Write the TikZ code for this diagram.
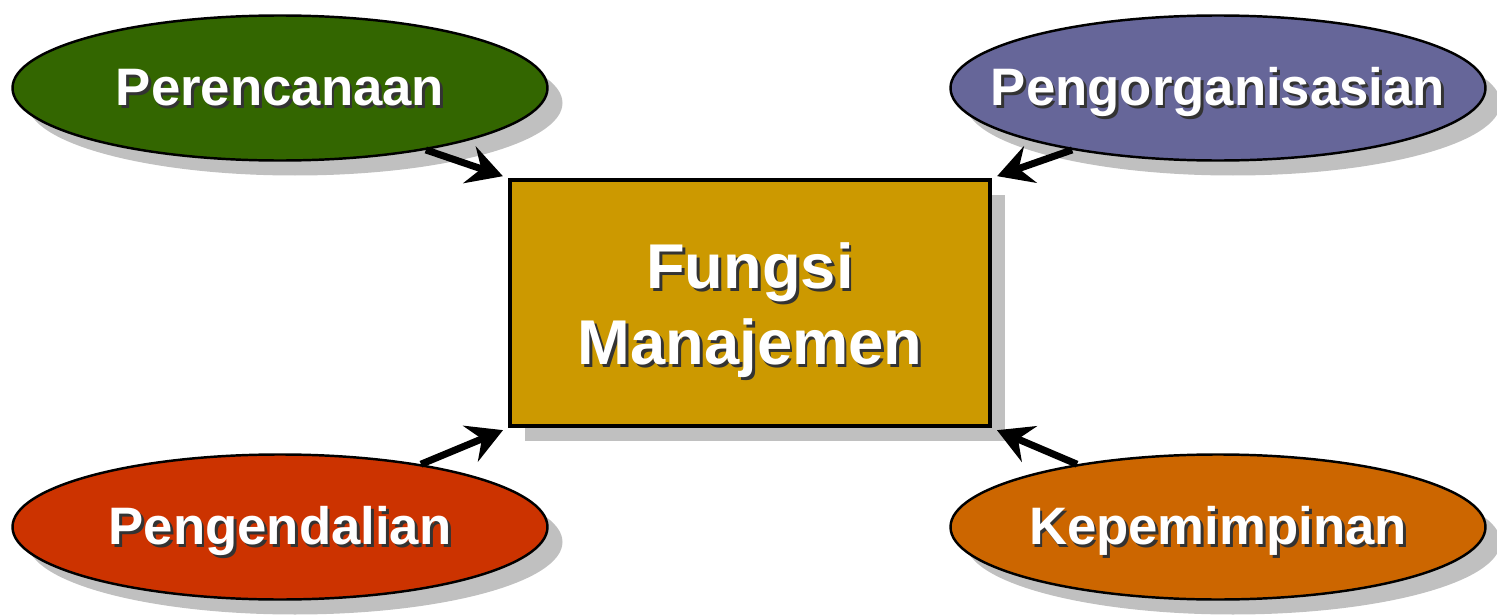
\documentclass[tikz,border=0pt]{standalone}
\usepackage{fontspec}
\setmainfont{Liberation Sans}
\usepackage{tikz}
\usetikzlibrary{arrows.meta,shadows,calc,shapes.geometric}

\definecolor{plangreen}{HTML}{336600}
\definecolor{orgpurple}{HTML}{666699}
\definecolor{ctrlred}{HTML}{CC3300}
\definecolor{leadorange}{HTML}{CC6600}
\definecolor{fmgold}{HTML}{CC9900}
\definecolor{shgray}{HTML}{C0C0C0}

\newcommand{\txtsh}[1]{\leavevmode\rlap{\kern0.8pt\raisebox{-0.8pt}{\textcolor{black!80}{#1}}}#1}
\newcommand{\fnlabel}[1]{\makebox[2cm][c]{\txtsh{#1}}}

\begin{document}
\begin{tikzpicture}[
        funcsty/.style={
            draw, ellipse, line width=0.7pt, inner sep=0pt,
            minimum width=5.35cm, minimum height=1.45cm,
            text height=12pt, text depth=2.2pt,
            text=white, font=\fontsize{15}{18}\selectfont\bfseries,
            drop shadow={shadow xshift=0.15cm, shadow yshift=-0.15cm, fill=shgray, opacity=1},
        },
        centersty/.style={
            draw, rectangle, line width=1.2pt, fill=fmgold, align=center,
            minimum width=4.8cm, minimum height=2.46cm,
            text=white, font=\fontsize{18}{21.6}\selectfont\bfseries,
            drop shadow={shadow xshift=0.15cm, shadow yshift=-0.15cm, fill=shgray, opacity=1},
        },
        arrsty/.style={
            line width=2pt, -{Stealth[length=10pt,width=11pt,inset=3.5pt]},
            shorten >=1.5pt
        }
    ]
    \useasboundingbox (0,0) rectangle (14.97,-6.15);

    \node[centersty] at (7.50,-3.03) (fm) {\txtsh{Fungsi}\rule{0pt}{18pt}\\\txtsh{Manajemen}};

    \node[funcsty,fill=plangreen] at (2.80,-0.88) (plan) {\fnlabel{Perencanaan}};
    \node[funcsty,fill=orgpurple] at (12.18,-0.88) (org) {\fnlabel{Pengorganisasian}};
    \node[funcsty,fill=ctrlred] at (2.80,-5.27) (ctrl) {\fnlabel{Pengendalian}};
    \node[funcsty,fill=leadorange] at (12.18,-5.27) (lead) {\fnlabel{Kepemimpinan}};

    \draw[arrsty] (plan.-23) -- (fm.north west);
    \draw[arrsty] (org.203) -- (fm.north east);
    \draw[arrsty] (ctrl.24) -- (fm.south west);
    \draw[arrsty] (lead.156) -- (fm.south east);

\end{tikzpicture}
\end{document}
